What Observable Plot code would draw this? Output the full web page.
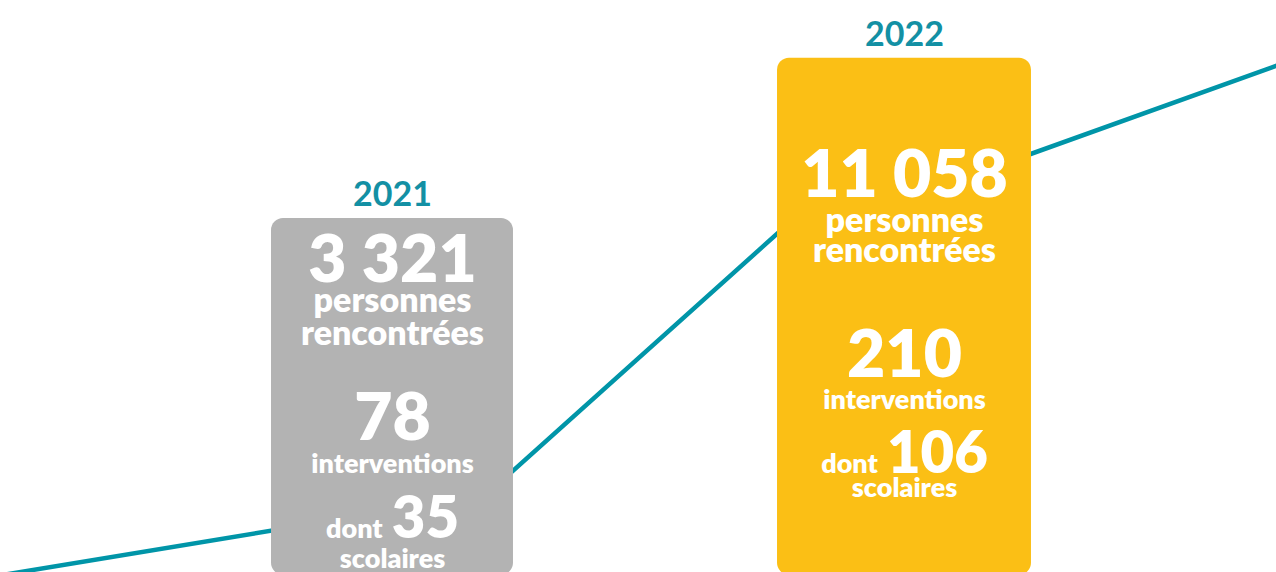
<!DOCTYPE html>
<html><head><meta charset="utf-8">
<script src="https://cdn.jsdelivr.net/npm/d3@7"></script>
<script src="https://cdn.jsdelivr.net/npm/@observablehq/plot@0.6"></script>
<style>html,body{margin:0;padding:0;background:#fff;overflow:hidden}</style>
</head><body><div id="chart"></div>
<script>
// ---- data ----
const years = [2021, 2022];
const personnes = [3321, 11058];
const interventions = [78, 210];
const scolaires = [35, 106];
const labelPersonnes = ["personnes", "rencontrées"];
const labelInterventions = "interventions";
const labelDont = "dont";
const labelScolaires = "scolaires";
// growth trend line (arbitrary index)
const trendT = [2020.234, 2021.182, 2021.797, 2022.207, 2022.727];
const trendV = [-0.5, 13.5, 62.9, 71.9, 88.6];

// ---- layout / style ----
const teal = "#0095a8";
const yearTeal = "#1390a4";
const fills = {2021: "#b3b3b3", 2022: "#fbbf15"};
const layout = {
  2021: {half: 0.2363, top: 61.9, off: [64, 94, 127, 222, 255, 320, 350]},
  2022: {half: 0.248, top: 89.9, off: [139, 174, 204, 319, 351, 415, 439]}
};
const bottom = -0.5;
const FONT = "Lato";
const W_TXT = 800;
const BIG = 66, DNUM = 58, MID = 34, SMALL = 27;
const fr = d3.formatLocale({decimal: ",", thousands: " ", grouping: [3], currency: ["", " €"]}).format(",d");

const ctx = document.createElement("canvas").getContext("2d");
function tw(s, size) { ctx.font = `${W_TXT} ${size}px ${FONT}`; return ctx.measureText(s).width; }

const trend = trendT.map((t, i) => ({t, v: trendV[i]}));
const rows = years.map((year, i) => ({year, personnes: personnes[i], interventions: interventions[i], scolaires: scolaires[i]}));

const marks = [
  Plot.line(trend, {x: "t", y: "v", stroke: teal, strokeWidth: 4.5, strokeLinejoin: "round"})
];
const txt = (d, text, size, offIdx, extra = {}) => Plot.text([d], {
  x: "year", y: () => layout[d.year].top, text: () => text,
  fontSize: size, fontWeight: W_TXT, fontFamily: FONT, fill: "white",
  lineAnchor: "bottom", dy: layout[d.year].off[offIdx], ...extra
});
for (const d of rows) {
  const L = layout[d.year];
  marks.push(Plot.rect([d], {
    x1: r => r.year - L.half, x2: r => r.year + L.half,
    y1: () => bottom, y2: () => L.top, fill: fills[d.year], rx: 12, ry: 12
  }));
  marks.push(Plot.text([d], {
    x: "year", y: () => L.top, text: r => String(r.year), fontSize: 34, fontWeight: "bold",
    fontFamily: FONT, fill: yearTeal, lineAnchor: "bottom", dy: -12
  }));
  marks.push(txt(d, fr(d.personnes), BIG, 0));
  marks.push(txt(d, labelPersonnes[0], MID, 1));
  marks.push(txt(d, labelPersonnes[1], MID, 2));
  marks.push(txt(d, String(d.interventions), BIG, 3));
  marks.push(txt(d, labelInterventions, SMALL, 4));
  const numS = String(d.scolaires);
  const dW = tw(labelDont, SMALL), nW = tw(numS, DNUM), gap = 9;
  const total = dW + gap + nW;
  marks.push(txt(d, labelDont, SMALL, 5, {textAnchor: "end", dx: -total / 2 + dW}));
  marks.push(txt(d, numS, DNUM, 5, {textAnchor: "start", dx: -total / 2 + dW + gap}));
  marks.push(txt(d, labelScolaires, SMALL, 6));
}

const chart = Plot.plot({
  width: 1276, height: 572, margin: 0,
  x: {domain: [2021, 2022], range: [392, 904], axis: null},
  y: {domain: [0, 100], range: [572, 0], axis: null},
  style: {background: "white", overflow: "hidden"},
  marks
});
document.getElementById("chart").appendChild(chart);
</script>
</body></html>
